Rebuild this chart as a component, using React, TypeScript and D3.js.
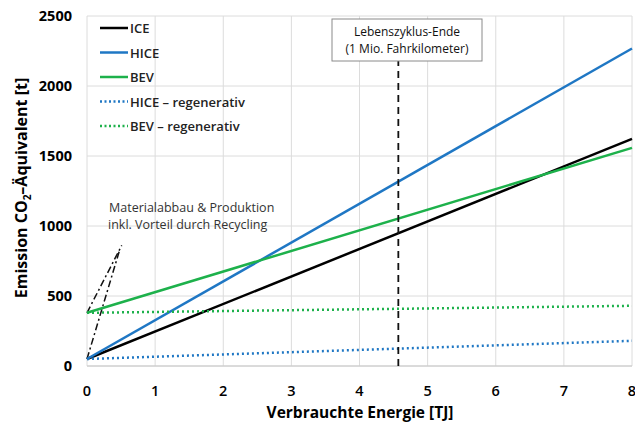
import * as d3 from "d3";
import { useEffect, useRef } from "react";

// series endpoints [energy TJ, emission t]
const seriesNames = ["ICE", "HICE", "BEV", "HICE – regenerativ", "BEV – regenerativ"];
const seriesColors = ["#000000", "#1f77c4", "#1db14b", "#1f77c4", "#1db14b"];
const seriesDotted = [false, false, false, true, true];
const seriesPoints: [number, number][][] = [
  [[0, 50], [8, 1622]],
  [[0, 50], [8, 2268]],
  [[0, 380], [8, 1558]],
  [[0, 50], [8, 180]],
  [[0, 380], [8, 430]],
];
// production lines (dash-dot)
const productionLines: [number, number][][] = [
  [[0, 380], [0.51, 862]],
  [[0, 50], [0.48, 830]],
];
const xTicks = [0, 1, 2, 3, 4, 5, 6, 7, 8];
const yTicks = [0, 500, 1000, 1500, 2000, 2500];
const lifeEnd = 4.57;

const App = () => {
  const ref = useRef<SVGSVGElement>(null);
  useEffect(() => {
    const svg = d3.select(ref.current);
    svg.selectAll("*").remove();
    const font = "'Open Sans', sans-serif";

    const x = d3.scaleLinear().domain([0, 8]).range([87, 632]);
    const y = d3.scaleLinear().domain([0, 2500]).range([366, 16]);

    // grid
    const grid = svg.append("g");
    grid.selectAll("line.v").data(xTicks).join("line")
      .attr("x1", (d) => x(d)).attr("x2", (d) => x(d))
      .attr("y1", y(0)).attr("y2", y(2500))
      .attr("stroke", "#dcdcdc").attr("stroke-width", 1);
    grid.selectAll("line.h").data(yTicks).join("line")
      .attr("x1", x(0)).attr("x2", x(8))
      .attr("y1", (d) => y(d)).attr("y2", (d) => y(d))
      .attr("stroke", "#dcdcdc").attr("stroke-width", 1);
    svg.append("line")
      .attr("x1", x(0)).attr("x2", x(8)).attr("y1", y(0)).attr("y2", y(0))
      .attr("stroke", "#c8c8c8").attr("stroke-width", 1.2);

    // tick labels
    svg.append("g").selectAll("text").data(xTicks).join("text")
      .attr("x", (d) => x(d)).attr("y", 396)
      .attr("text-anchor", "middle")
      .style("font-family", font).style("font-size", "14.5px").style("font-weight", 600)
      .text((d) => d);
    svg.append("g").selectAll("text").data(yTicks).join("text")
      .attr("x", 72).attr("y", (d) => y(d) + 5)
      .attr("text-anchor", "end")
      .style("font-family", font).style("font-size", "14.5px").style("font-weight", 700)
      .text((d) => d);

    // axis titles
    svg.append("text")
      .attr("x", 360).attr("y", 418).attr("text-anchor", "middle")
      .style("font-family", font).style("font-size", "15.5px").style("font-weight", 700)
      .text("Verbrauchte Energie [TJ]");
    const yt = svg.append("text")
      .attr("transform", "translate(27,188) rotate(-90)")
      .attr("text-anchor", "middle")
      .style("font-family", font).style("font-size", "16px").style("font-weight", 700);
    yt.append("tspan").text("Emission CO");
    yt.append("tspan").attr("dy", 4).style("font-size", "10px").text("2");
    yt.append("tspan").attr("dy", -4).text("–Äquivalent [t]");

    const line = d3.line<[number, number]>().x((d) => x(d[0])).y((d) => y(d[1]));

    // production dash-dot
    svg.append("g").selectAll("path").data(productionLines).join("path")
      .attr("d", line).attr("fill", "none")
      .attr("stroke", "#111").attr("stroke-width", 1.5)
      .attr("stroke-dasharray", "7,3,2,3");

    // series
    svg.append("g").selectAll("path").data(seriesPoints).join("path")
      .attr("d", line).attr("fill", "none")
      .attr("stroke", (_, i) => seriesColors[i])
      .attr("stroke-width", 2.5)
      .attr("stroke-dasharray", (_, i) => (seriesDotted[i] ? "2,3" : null));

    // life cycle end
    svg.append("line")
      .attr("x1", x(lifeEnd)).attr("x2", x(lifeEnd))
      .attr("y1", y(0)).attr("y2", 61)
      .attr("stroke", "#111").attr("stroke-width", 1.8)
      .attr("stroke-dasharray", "7,5");
    svg.append("rect")
      .attr("x", 332).attr("y", 19).attr("width", 150).attr("height", 42)
      .attr("fill", "#fff").attr("stroke", "#8a8a8a").attr("stroke-width", 1);
    const box = svg.append("g")
      .style("font-family", font).style("font-size", "12px").style("font-weight", 500)
      .attr("fill", "#111").attr("text-anchor", "middle");
    box.append("text").attr("x", 407).attr("y", 36).text("Lebenszyklus-Ende");
    box.append("text").attr("x", 407).attr("y", 53).text("(1 Mio. Fahrkilometer)");

    // production note
    const note = svg.append("g")
      .style("font-family", font).style("font-size", "12.5px").style("font-weight", 500)
      .attr("fill", "#333");
    note.append("text").attr("x", 109).attr("y", 212).text("Materialabbau & Produktion");
    note.append("text").attr("x", 108).attr("y", 229).text("inkl. Vorteil durch Recycling");

    // legend
    const leg = svg.append("g");
    seriesNames.forEach((name, i) => {
      const ly = 28 + i * 24.5;
      leg.append("line")
        .attr("x1", 100).attr("x2", 128).attr("y1", ly).attr("y2", ly)
        .attr("stroke", seriesColors[i]).attr("stroke-width", 2.5)
        .attr("stroke-dasharray", seriesDotted[i] ? "2,2.5" : null);
      leg.append("text")
        .attr("x", 130).attr("y", ly + 5)
        .style("font-family", font).style("font-size", "13px").style("font-weight", 600)
        .attr("fill", "#222")
        .text(name);
    });
  }, []);

  return (
    <svg
      ref={ref}
      width={635}
      height={425}
      style={{ position: "absolute", left: 0, top: 0, background: "#fff" }}
    />
  );
};

export default App;
